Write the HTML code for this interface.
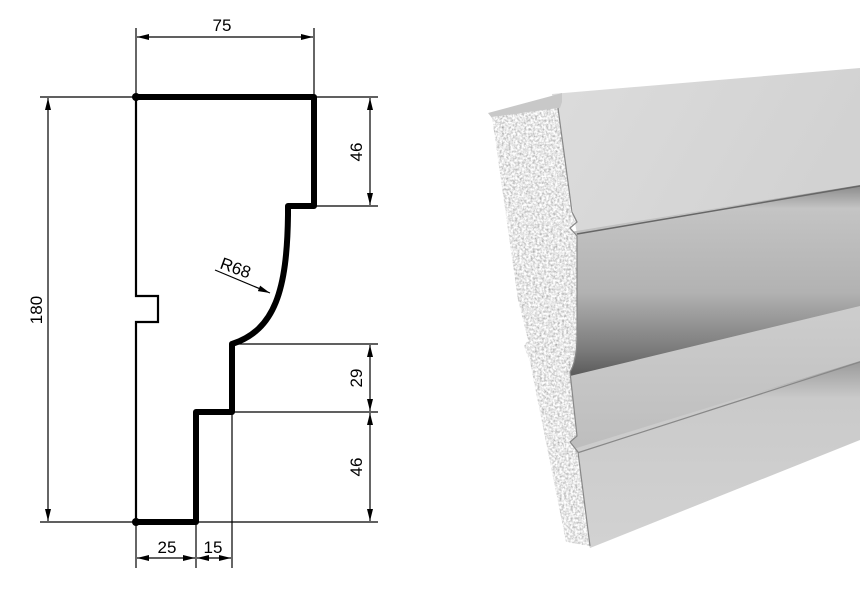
<!DOCTYPE html>
<html><head><meta charset="utf-8"><style>
html,body{margin:0;padding:0;background:#fff;}
svg{display:block;}
text{font-family:"Liberation Sans",Arial,sans-serif;font-size:17px;fill:#000;}
</style></head><body>
<svg width="860" height="598" viewBox="0 0 860 598" xmlns="http://www.w3.org/2000/svg">
<defs>
<marker id="a" viewBox="0 0 12 6" refX="12" refY="3" markerWidth="12" markerHeight="6" orient="auto-start-reverse" markerUnits="userSpaceOnUse"><path d="M0,0 L12,3 L0,6 z" fill="#000"/></marker>
<filter id="foam" x="0" y="0" width="100%" height="100%">
<feTurbulence type="fractalNoise" baseFrequency="0.45" numOctaves="3" seed="3"/>
<feColorMatrix type="matrix" values="1.1 0 0 0 0.25  1.1 0 0 0 0.25  1.1 0 0 0 0.25  0 0 0 0 1"/>
<feComposite in2="SourceGraphic" operator="in"/>
</filter>
<linearGradient id="cove" x1="0" y1="0" x2="0" y2="1">
<stop offset="0" stop-color="#8a8a8a"/><stop offset="0.12" stop-color="#c4c4c4"/><stop offset="0.55" stop-color="#b2b2b2"/><stop offset="0.85" stop-color="#7a7a7a"/><stop offset="1" stop-color="#555"/>
</linearGradient>
<linearGradient id="top" x1="0" y1="0" x2="1" y2="0.3"><stop offset="0" stop-color="#dcdcdc"/><stop offset="1" stop-color="#d2d2d2"/></linearGradient>
<linearGradient id="mid" x1="0" y1="0" x2="0" y2="1"><stop offset="0" stop-color="#cdcdcd"/><stop offset="1" stop-color="#bdbdbd"/></linearGradient>
<linearGradient id="bot" x1="0" y1="0" x2="0" y2="1"><stop offset="0" stop-color="#9a9a9a"/><stop offset="0.2" stop-color="#cacaca"/><stop offset="1" stop-color="#d2d2d2"/></linearGradient>
</defs>

<!-- 3D render -->
<polygon points="552,94 860,68 860,186 577,234 562,150" fill="url(#top)"/>
<polygon points="570,232 860,185 860,308 570,380" fill="url(#cove)"/>
<polygon points="570,376 860,306 860,363 570,454" fill="url(#mid)"/>
<polygon points="570,450 860,361 860,440 590,548 575,500" fill="url(#bot)"/>
<line x1="577" y1="234" x2="860" y2="186" stroke="#666" stroke-width="1.5"/>
<line x1="577" y1="453" x2="860" y2="362" stroke="#888" stroke-width="1.2"/>
<polygon points="488,113 555,95 562,93 562,102 560,108 492,118" fill="#c8c8c8"/>
<path d="M492,117 L558,108 L572,212 L577,222 L570,228 L577,236 L577,340 Q576,362 570,372 L577,436 L570,442 L578,452 L590,546 L566,542 L530,362 L524,346 L528,340 L518,300 Z" fill="#fff" filter="url(#foam)"/>
<path d="M558,108 L572,212 L577,222 L570,228 L577,236 L577,340 Q576,362 570,372 L577,436 L570,442 L578,452 L590,546" fill="none" stroke="#888" stroke-width="1.2"/>

<!-- drawing: thin lines -->
<g stroke="#000" stroke-width="1.2" fill="none">
<line x1="136" y1="28" x2="136" y2="97"/><line x1="314" y1="28" x2="314" y2="97"/>
<line x1="40" y1="97" x2="136" y2="97"/><line x1="40" y1="522" x2="378" y2="522"/>
<line x1="314" y1="97" x2="378" y2="97"/><line x1="314" y1="206" x2="378" y2="206"/>
<line x1="232" y1="344" x2="378" y2="344"/><line x1="232" y1="412" x2="378" y2="412"/>
<line x1="136" y1="522" x2="136" y2="568"/><line x1="196" y1="522" x2="196" y2="568"/><line x1="232" y1="412" x2="232" y2="568"/>
<line x1="137" y1="37" x2="313" y2="37" marker-start="url(#a)" marker-end="url(#a)"/>
<line x1="48" y1="98" x2="48" y2="521" marker-start="url(#a)" marker-end="url(#a)"/>
<line x1="370" y1="98" x2="370" y2="205" marker-start="url(#a)" marker-end="url(#a)"/>
<line x1="370" y1="345" x2="370" y2="411" marker-start="url(#a)" marker-end="url(#a)"/>
<line x1="370" y1="413" x2="370" y2="521" marker-start="url(#a)" marker-end="url(#a)"/>
<line x1="137" y1="558" x2="195" y2="558" marker-start="url(#a)" marker-end="url(#a)"/>
<line x1="197" y1="558" x2="231" y2="558" marker-start="url(#a)" marker-end="url(#a)"/>
<line x1="215" y1="270" x2="270" y2="293" marker-end="url(#a)"/>
</g>
<path d="M136,97 L136,296 L158,296 L158,322 L136,322 L136,522" stroke="#000" stroke-width="2.2" fill="none"/>
<path d="M136,97 L314,97 L314,206 L288,206 L288,215 C287,290 275,330 232,344 L232,412 L196,412 L196,522 L136,522" stroke="#000" stroke-width="6" fill="none" stroke-linejoin="round"/>
<circle cx="136" cy="97" r="4"/><circle cx="136" cy="522" r="4"/>

<text x="222" y="31" text-anchor="middle">75</text>
<text transform="translate(42,310) rotate(-90)" text-anchor="middle">180</text>
<text transform="translate(362,152) rotate(-90)" text-anchor="middle">46</text>
<text transform="translate(362,378) rotate(-90)" text-anchor="middle">29</text>
<text transform="translate(362,467) rotate(-90)" text-anchor="middle">46</text>
<text x="167" y="553" text-anchor="middle">25</text>
<text x="213" y="553" text-anchor="middle">15</text>
<text transform="translate(219,268) rotate(20)">R68</text>
</svg>
</body></html>
